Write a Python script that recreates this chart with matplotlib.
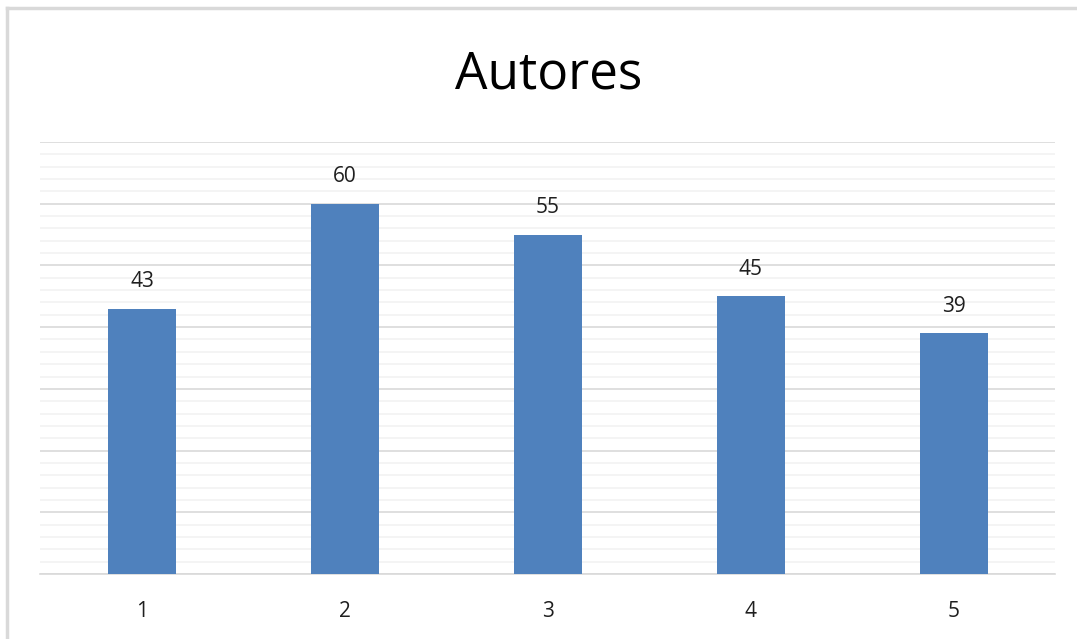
import matplotlib.pyplot as plt
from matplotlib.lines import Line2D
import numpy as np

plt.rcParams["font.family"] = ["Open Sans", "DejaVu Sans"]

# datos
categorias = ["1", "2", "3", "4", "5"]
valores = [43, 60, 55, 45, 39]

color_barra = "#4F81BD"
color_texto = "#1F1F1F"

fig = plt.figure(figsize=(10.77, 6.39), dpi=100)
ax = fig.add_axes([0.0376, 0.1017, 0.9424, 0.6761])

x = np.arange(len(categorias))
ax.bar(x, valores, width=0.335, color=color_barra, zorder=3)

for xi, v in zip(x, valores):
    ax.annotate(str(v), (xi, v), xytext=(0, 19.5), textcoords="offset points",
                ha="center", va="center", fontsize=15, color=color_texto)

ax.set_xlim(-0.5, len(categorias) - 0.5)
ax.set_ylim(0, 70)

# rejilla
ax.set_yticks(np.arange(0, 71, 10))
ax.set_yticks(np.arange(0, 71, 2), minor=True)
ax.grid(axis="y", which="minor", color="#F2F2F2", linewidth=1.2, zorder=0)
ax.grid(axis="y", which="major", color="#D9D9D9", linewidth=1.2, zorder=1)
ax.tick_params(axis="y", which="both", left=False, labelleft=False)

ax.set_xticks(x)
ax.set_xticklabels(categorias, fontsize=15, color=color_texto)
ax.tick_params(axis="x", length=0, pad=19.5)

for s in ["top", "right", "left"]:
    ax.spines[s].set_visible(False)
ax.spines["bottom"].set_color("#D9D9D9")
ax.spines["bottom"].set_linewidth(1.2)

fig.text(0.509, 0.882, "Autores", ha="center", va="center", fontsize=37, color="#000000")

# marco
fig.add_artist(Line2D([0.0065, 0.0065], [0, 0.9875], transform=fig.transFigure,
                      color="#D9D9D9", linewidth=2.5))
fig.add_artist(Line2D([0.0065, 1.0], [0.9875, 0.9875], transform=fig.transFigure,
                      color="#D9D9D9", linewidth=2.5))

plt.savefig("out.png", dpi=100)
